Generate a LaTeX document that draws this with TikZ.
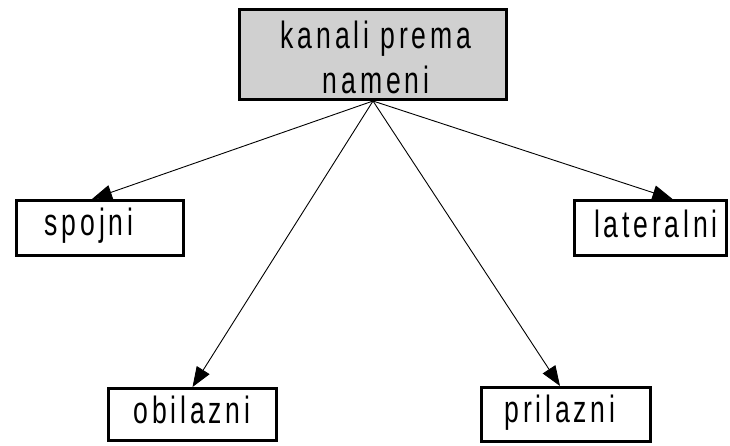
\documentclass[tikz,border=0pt]{standalone}
\usepackage{fontspec}
\setmainfont{Liberation Sans}[FakeStretch=0.7,LetterSpace=10]
\usetikzlibrary{arrows.meta}
\definecolor{boxgray}{RGB}{208,208,208}
\begin{document}
\begin{tikzpicture}[x=1pt,y=-1pt,
  box/.style={draw=black,line width=3pt,rectangle,inner sep=0pt},
  lbl/.style={anchor=base,inner sep=0pt,font=\fontsize{38}{45}\selectfont},
  conn/.style={line width=0.9pt,-{Triangle[length=20pt,width=15pt]}}]
\useasboundingbox (0,0) rectangle (730,445);
\node[box,fill=boxgray,minimum width=267pt,minimum height=90pt] (top) at (373,54.5) {};
\node[box,fill=white,minimum width=167pt,minimum height=55pt] (spojni) at (100,228) {};
\node[box,fill=white,minimum width=152pt,minimum height=55pt] (lateralni) at (650.5,228) {};
\node[box,fill=white,minimum width=168pt,minimum height=52pt] (obilazni) at (192.5,414.5) {};
\node[box,fill=white,minimum width=169pt,minimum height=54pt] (prilazni) at (566,414.5) {};
\node[lbl,align=center] (ttop) at (376,93) {kanali prema\\nameni};
\node[lbl] (tspojni) at (89,235) {spojni};
\node[lbl] (tlateralni) at (656,237) {lateralni};
\node[lbl] (tobilazni) at (192,423) {obilazni};
\node[lbl] (tprilazni) at (560,422) {prilazni};
\draw[conn] (top.south) -- ([xshift=-8pt]spojni.north);
\draw[conn] (top.south) -- ([xshift=22pt]lateralni.north);
\draw[conn] (top.south) -- (obilazni.north);
\draw[conn] (top.south) -- ([xshift=-6pt]prilazni.north);
\end{tikzpicture}
\end{document}
